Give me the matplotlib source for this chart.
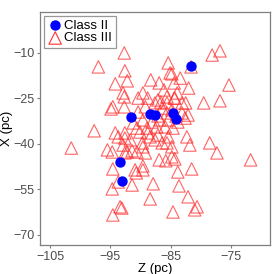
import matplotlib
matplotlib.use("Agg")
import matplotlib.pyplot as plt

plt.rcParams["font.family"] = ["Liberation Sans", "DejaVu Sans"]

# Class III (red open triangles): Z (pc), X (pc)
z_c3 = [-92.7, -97.0, -92.6, -92.2, -94.2, -92.9, -92.7, -94.9, -92.7, -97.7,
        -94.2, -92.6, -91.2, -76.8, -78.1, -81.6, -85.4, -85.1, -84.8, -88.3,
        -83.4, -86.9, -84.4, -82.0, -75.3, -89.6, -86.1, -83.9, -84.4, -79.5,
        -76.8, -82.5, -85.6, -89.2, -87.6, -86.6, -94.6, -82.1, -82.3, -81.8,
        -78.5, -77.3, -71.7, -85.6, -84.8, -101.5, -95.5, -93.7, -92.9, -92.2,
        -94.6, -90.9, -94.7, -93.7, -91.4, -93.4, -93.1, -94.6, -92.6, -91.4,
        -90.6, -89.2, -86.9, -85.8, -84.3, -89.6, -90.7, -89.6, -83.8, -81.5,
        -87.9, -83.6, -88.4, -82.1, -84.6, -81.0, -80.6, -89.6, -92.6, -90.1,
        -89.6, -88.4, -86.4, -84.8, -91.7, -86.8, -94.7, -90.4, -88.8, -87.1,
        -85.6, -84.3, -83.1, -90.4, -86.4, -85.6, -83.1, -82.6, -85.4, -83.8,
        -88.1, -90.6, -88.9, -87.3, -85.9, -84.6, -88.8, -87.1, -85.4, -87.6,
        -89.7, -87.1, -84.8, -84.1]
x_c3 = [-10.0, -14.6, -15.9, -19.2, -20.2, -23.2, -24.5, -28.5, -27.8, -35.7,
        -36.4, -36.4, -33.1, -9.3, -10.7, -14.6, -13.3, -16.6, -16.9, -18.9,
        -18.3, -19.9, -19.9, -21.6, -20.6, -23.2, -22.2, -23.2, -24.9, -26.5,
        -25.8, -26.5, -26.5, -27.8, -26.5, -26.2, -27.8, -30.5, -37.7, -40.4,
        -39.7, -43.0, -45.3, -39.7, -44.3, -41.4, -42.0, -37.7, -40.4, -42.7,
        -48.3, -48.6, -54.9, -52.6, -53.6, -60.8, -61.2, -63.5, -43.0, -42.3,
        -42.7, -43.0, -45.3, -45.6, -45.0, -47.3, -49.6, -48.6, -49.3, -48.3,
        -53.2, -53.9, -58.2, -57.5, -62.5, -61.8, -60.8, -32.1, -38.1, -36.1,
        -41.0, -37.7, -39.7, -41.0, -38.7, -32.1, -42.7, -24.9, -24.9, -25.5,
        -24.5, -24.9, -26.5, -29.5, -28.2, -29.8, -29.8, -31.5, -32.1, -32.8,
        -32.8, -34.8, -34.8, -34.4, -34.4, -34.8, -36.4, -37.1, -37.7, -38.7,
        -39.7, -30.8, -28.8, -30.8]

# Class II (blue filled circles)
z_c2 = [-81.6, -91.6, -88.4, -87.6, -84.6, -84.1, -93.4, -93.1]
x_c2 = [-14.3, -31.1, -30.1, -30.5, -29.8, -31.8, -46.0, -52.2]

xticks = [-105, -95, -85, -75]
yticks = [-10, -25, -40, -55, -70]

fig = plt.figure(figsize=(2.74, 2.74), dpi=100)
ax = fig.add_axes([0.146, 0.106, 0.839, 0.850])

ax.scatter(z_c3, x_c3, marker="^", s=80, facecolors="none",
           edgecolors="#ff3030", linewidths=0.8, alpha=0.75, label="Class III", zorder=2)
ax.scatter(z_c2, x_c2, marker="o", s=42, color="#0000ff", label="Class II", zorder=3)

ax.set_xlim(-106.7, -68.5)
ax.set_ylim(-73.4, 3.5)
ax.set_xticks(xticks)
ax.set_yticks(yticks)
ax.set_xticklabels([f"\u2212{abs(t)}" for t in xticks])
ax.set_yticklabels([f"\u2212{abs(t)}" for t in yticks])
ax.tick_params(axis="both", colors="#7f7f7f", labelcolor="#4d4d4d",
               labelsize=9, length=2.5, width=0.8, pad=1.5)
for spine in ax.spines.values():
    spine.set_color("#7f7f7f")
    spine.set_linewidth(0.9)

ax.set_xlabel("Z (pc)", fontsize=9.5, labelpad=0)
ax.set_ylabel("X (pc)", fontsize=9.5, labelpad=0)

handles, labels = ax.get_legend_handles_labels()
leg = ax.legend(handles[::-1], labels[::-1], loc="upper left", fontsize=9.5,
                frameon=True, fancybox=False, borderpad=0.25, handletextpad=0.1,
                labelspacing=0.05, handlelength=1.2, borderaxespad=0.3)
leg.get_frame().set_edgecolor("#7f7f7f")
leg.get_frame().set_linewidth(0.9)
for lh in leg.legend_handles:
    lh.set_alpha(1)

fig.savefig("out.png", dpi=100)
